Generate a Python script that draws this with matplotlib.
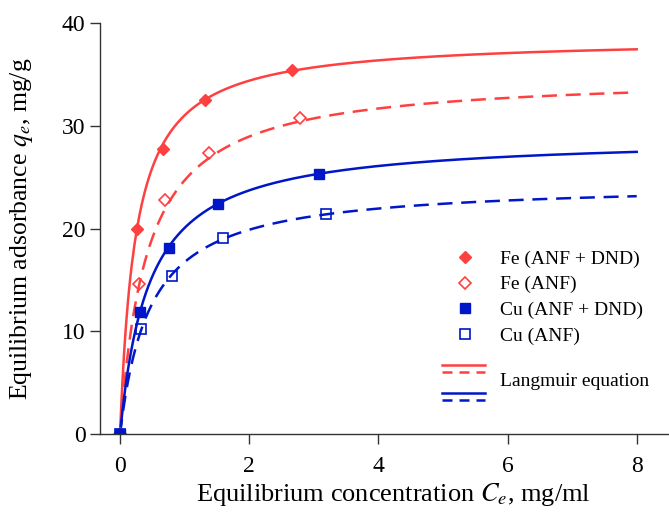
import numpy as np
import matplotlib
matplotlib.use('Agg')
import matplotlib.pyplot as plt
from matplotlib.lines import Line2D

plt.rcParams['font.family'] = ['Liberation Serif', 'DejaVu Serif']
plt.rcParams['mathtext.fontset'] = 'stix'

# measured points (C_e in mg/ml, q_e in mg/g)
fe_dnd_c = [0, 0.26, 0.67, 1.32, 2.66]
fe_dnd_q = [0, 20.0, 27.8, 32.5, 35.4]
fe_anf_c = [0, 0.29, 0.70, 1.38, 2.79]
fe_anf_q = [0, 14.6, 22.8, 27.4, 30.75]
cu_dnd_c = [0, 0.31, 0.76, 1.52, 3.08]
cu_dnd_q = [0, 11.9, 18.1, 22.4, 25.3]
cu_anf_c = [0, 0.33, 0.80, 1.59, 3.19]
cu_anf_q = [0, 10.2, 15.4, 19.1, 21.4]

# Langmuir parameters (q_max, K) for each series
qmax = [38.6, 35.0, 29.0, 24.5]
kl = [4.1, 2.4, 2.25, 2.16]

red = '#ff4040'
blue = '#0016c8'

fig = plt.figure(figsize=(6.69, 5.15), dpi=100)
ax = fig.add_axes([0.1495, 0.157, 0.8505, 0.798])

c = np.linspace(0, 8, 400)
styles = [(red, '-'), (red, '--'), (blue, '-'), (blue, '--')]
for (col, ls), qm, k in zip(styles, qmax, kl):
    q = qm * k * c / (1 + k * c)
    if ls == '--':
        ax.plot(c, q, color=col, lw=1.8, dashes=(6, 3.5))
    else:
        ax.plot(c, q, color=col, lw=1.8)

ax.plot(fe_dnd_c, fe_dnd_q, 'D', color=red, ms=6.5, ls='none', label='Fe (ANF + DND)')
ax.plot(fe_anf_c, fe_anf_q, 'D', mfc='none', mec=red, ms=6.5, mew=1.2, ls='none', label='Fe (ANF)')
ax.plot(cu_dnd_c, cu_dnd_q, 's', color=blue, ms=7, ls='none', label='Cu (ANF + DND)')
ax.plot(cu_anf_c, cu_anf_q, 's', mfc='none', mec=blue, ms=7, mew=1.2, ls='none', label='Cu (ANF)')

ax.set_xlim(-0.31, 8.5)
ax.set_ylim(0, 40)
ax.set_xticks([0, 2, 4, 6, 8])
ax.set_yticks([0, 10, 20, 30, 40])
ax.spines['top'].set_visible(False)
ax.spines['right'].set_visible(False)
for s in ['left', 'bottom']:
    ax.spines[s].set_color('#333333')
    ax.spines[s].set_linewidth(1.0)
ax.tick_params(direction='out', length=7, width=1.0, labelsize=17, colors='#333333',
               labelcolor='black')
ax.tick_params(axis='x', pad=9)
ax.set_xlabel('Equilibrium concentration $C_e$, mg/ml', fontsize=19)
ax.xaxis.set_label_coords(0.515, -0.113)
ax.xaxis.label.set_va('top')
ax.set_ylabel('Equilibrium adsorbance $q_e$, mg/g', fontsize=18.5, labelpad=19)

leg = ax.legend(loc='upper left', bbox_to_anchor=(0.598, 0.472), frameon=False,
                fontsize=14, handletextpad=1.05, labelspacing=0.42, borderpad=0,
                handlelength=1.5)

# Langmuir equation legend entry: four line samples + one label
tr = ax.transAxes
x0, x1 = 0.601, 0.676
for yy, (col, ls) in zip([0.168, 0.151, 0.100, 0.083], styles):
    if ls == '--':
        ax.add_line(Line2D([x0, x1], [yy, yy], transform=tr, color=col, lw=1.8,
                           dashes=(4, 2.8), clip_on=False))
    else:
        ax.add_line(Line2D([x0, x1], [yy, yy], transform=tr, color=col, lw=1.8,
                           clip_on=False))
ax.text(0.703, 0.127, 'Langmuir equation', transform=tr, fontsize=14, va='center')

fig.savefig('out.png', dpi=100)
